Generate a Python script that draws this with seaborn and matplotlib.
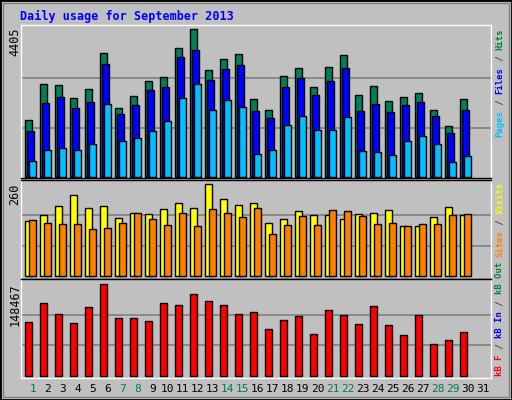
import numpy as np
import matplotlib
matplotlib.use("Agg")
import matplotlib.pyplot as plt
import seaborn as sns
from matplotlib.patches import Rectangle

days = list(range(1, 32))
weekend = [1, 7, 8, 14, 15, 21, 22, 28, 29]

hits = [1684, 2761, 2731, 2342, 2611, 3687, 2043, 2402, 2850, 2970, 3837, 4405, 3179, 3508, 3658,
        2312, 1983, 3000, 3239, 2671, 3269, 3628, 2432, 2701, 2252, 2372, 2492, 1983, 1505, 2312]
files = [1355, 2193, 2372, 2043, 2222, 3359, 1864, 2133, 2581, 2671, 3568, 3777, 2880, 3209, 3329,
         1953, 1744, 2671, 2940, 2432, 2850, 3239, 1953, 2163, 1923, 2133, 2222, 1804, 1296, 1983]
pages = [458, 787, 847, 787, 967, 2163, 1056, 1146, 1355, 1654, 2342, 2761, 1983, 2282, 2073,
         668, 787, 1535, 1804, 1385, 1385, 1774, 757, 727, 638, 1056, 1206, 967, 429, 608]
visits = [155, 172, 198, 229, 192, 198, 164, 178, 175, 189, 206, 192, 260, 218, 201,
          206, 150, 161, 184, 172, 172, 161, 175, 178, 187, 141, 141, 167, 195, 172]
sites = [158, 150, 147, 147, 133, 136, 150, 178, 161, 144, 178, 141, 189, 178, 167,
         192, 119, 144, 170, 144, 187, 184, 170, 147, 150, 141, 147, 147, 172, 175]
kbytes = [86700, 117600, 99700, 85100, 111100, 148467, 93200, 93200, 88300, 117600, 114300, 132200,
          120800, 114300, 99700, 103000, 75300, 89900, 96400, 67200, 106200, 98100, 83400, 112700,
          81800, 65600, 98100, 50900, 57400, 70400]

BG = "#C0C0C0"
MONO = "DejaVu Sans Mono"
sns.set_style("white")
plt.rcParams["font.family"] = [MONO]

W, H = 512, 400
fig = plt.figure(figsize=(W / 100, H / 100), dpi=100, facecolor=BG)
fig.patches.append(Rectangle((0, 0), 1, 1, transform=fig.transFigure, fill=False,
                             edgecolor="black", linewidth=2))
fig.patches.append(Rectangle((3 / W, 3 / H), 1 - 6 / W, 1 - 6 / H, transform=fig.transFigure,
                             fill=False, edgecolor="#808080", linewidth=1))

def px_axes(top, bottom):
    return fig.add_axes([20.7 / W, 1 - bottom / H, 470 / W, (bottom - top) / H], facecolor=BG)

ax1 = px_axes(25, 178)
ax2 = px_axes(180.3, 279)
ax3 = px_axes(279, 377.7)

n = len(hits)
slot = 15.0
base = np.array([4.7 + i * slot for i in range(n)])

def bars(ax, vals, offset, color):
    sns.barplot(x=base + offset + 3.5, y=vals, native_scale=True, width=7 / slot,
                color=color, saturation=1, edgecolor="black", linewidth=1, ax=ax, zorder=3)

bars(ax1, hits, 0, "#00805A")
bars(ax1, files, 2, "#0000FF")
bars(ax1, pages, 4, "#00C0FF")
bars(ax2, visits, 0, "#FFFF00")
bars(ax2, sites, 4, "#FF8000")
bars(ax3, kbytes, 0, "#FF0000")

for ax, mx, lo, hi in [(ax1, max(hits), -40, 4533), (ax2, max(visits), -7.6, 271),
                       (ax3, max(kbytes), -3250, 157070)]:
    ax.set_xlim(0, 470)
    ax.set_ylim(lo, hi)
    for f in (1 / 3, 2 / 3):
        ax.axhline(mx * f, color="#808080", linewidth=1.2, zorder=1)
    ax.set_xticks([])
    ax.set_yticks([])
    ax.set_xlabel("")
    ax.set_ylabel("")
    for s in ax.spines.values():
        s.set_color("black")
        s.set_linewidth(1)

ax1.spines["top"].set_color("white")
ax1.spines["left"].set_color("white")
ax1.spines["right"].set_color("white")
for ax in (ax2, ax3):
    ax.spines["left"].set_color("white")
    ax.spines["right"].set_color("white")
ax3.spines["bottom"].set_color("white")

fig.text(20 / W, 1 - 16 / H, "Daily usage for September 2013", color="#0000FF",
         fontsize=8.5, fontweight="bold", va="center", ha="left")

for txt, top in [(str(max(hits)), 27), (str(max(visits)), 184), (str(max(kbytes)), 283)]:
    fig.text(15 / W, 1 - top / H, txt, rotation=90, fontsize=8.5, va="top", ha="center", color="black")

for d in days:
    x = 20.7 + 4.7 + (d - 1) * slot + 7.5
    fig.text(x / W, 1 - 389 / H, str(d), fontsize=8, ha="center", va="center",
             color="#008040" if d in weekend else "black")

FS = 6.4
cw = FS * 100 / 72 * 0.6 + 0.1
def side_label(parts, bottom):
    y = bottom
    for txt, col in parts:
        fig.text(500 / W, 1 - y / H, txt, rotation=90, fontsize=FS, fontweight="bold",
                 color=col, ha="center", va="bottom")
        y -= cw * len(txt)

side_label([("Pages", "#00C0FF"), (" / ", "#404040"), ("Files", "#0000FF"),
            (" / ", "#404040"), ("Hits", "#008040")], 137)
side_label([("Sites", "#FF8000"), (" / ", "#404040"), ("Visits", "#FFFF00")], 257)
side_label([("kB F", "#FF0000"), (" / ", "#404040"), ("kB In", "#0000FF"),
            (" / ", "#404040"), ("kB Out", "#008040")], 376)

fig.savefig("out.png", dpi=100, facecolor=BG)
